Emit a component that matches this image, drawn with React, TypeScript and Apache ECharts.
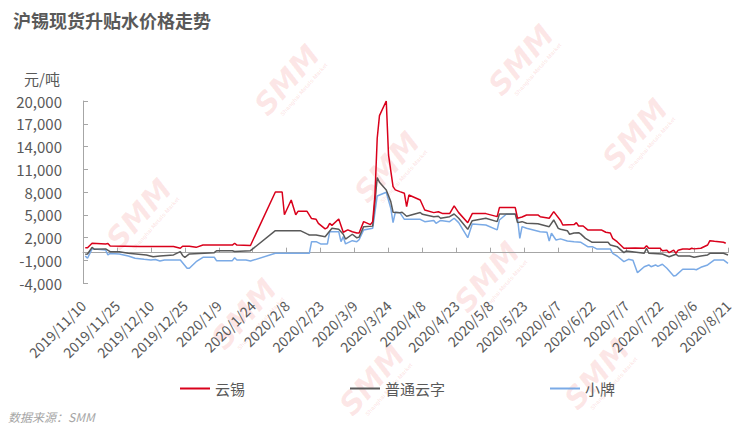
import React, { useEffect, useRef } from "react";
import * as echarts from "echarts";

const chartTitle = "沪锡现货升贴水价格走势";
const unitLabel = "元/吨";
const sourceLabel = "数据来源：SMM";
const seriesNames = ["云锡", "普通云字", "小牌"];
const seriesColors = ["#d9001b", "#595959", "#7aaae6"];

const xTickLabels = [
  "2019/11/10", "2019/11/25", "2019/12/10", "2019/12/25", "2020/1/9",
  "2020/1/24", "2020/2/8", "2020/2/23", "2020/3/9", "2020/3/24",
  "2020/4/8", "2020/4/23", "2020/5/8", "2020/5/23", "2020/6/7",
  "2020/6/22", "2020/7/7", "2020/7/22", "2020/8/6", "2020/8/21",
];

const yunxi: [string, number][] = [
  ["2019-11-11", 650], ["2019-11-12", 650], ["2019-11-14", 1240], ["2019-11-20", 1150],
  ["2019-11-21", 1200], ["2019-11-22", 880], ["2019-12-05", 820], ["2019-12-12", 800],
  ["2019-12-20", 820], ["2019-12-23", 580], ["2019-12-24", 850], ["2019-12-27", 850],
  ["2019-12-30", 700], ["2020-01-02", 1000], ["2020-01-15", 1000], ["2020-01-16", 1240],
  ["2020-01-17", 1000], ["2020-01-23", 950], ["2020-02-03", 8000], ["2020-02-06", 8000],
  ["2020-02-07", 5000], ["2020-02-10", 6950], ["2020-02-12", 5000], ["2020-02-13", 5450],
  ["2020-02-17", 5450], ["2020-02-19", 4500], ["2020-02-21", 4400], ["2020-02-22", 3870],
  ["2020-02-25", 3130], ["2020-02-26", 3300], ["2020-02-27", 3870], ["2020-02-28", 3600],
  ["2020-03-02", 4440], ["2020-03-04", 2690], ["2020-03-06", 3000], ["2020-03-08", 2750],
  ["2020-03-10", 2600], ["2020-03-11", 2600], ["2020-03-13", 4090], ["2020-03-16", 3700],
  ["2020-03-17", 4090], ["2020-03-18", 7600], ["2020-03-19", 15090], ["2020-03-20", 18070],
  ["2020-03-23", 20000], ["2020-03-24", 12890], ["2020-03-26", 8710], ["2020-03-27", 8280],
  ["2020-03-29", 8050], ["2020-03-31", 7830], ["2020-04-01", 6070], ["2020-04-02", 7600],
  ["2020-04-07", 6950], ["2020-04-09", 5630], ["2020-04-13", 5280], ["2020-04-15", 5400],
  ["2020-04-17", 5150], ["2020-04-20", 5150], ["2020-04-22", 6160], ["2020-04-24", 5280],
  ["2020-04-28", 3960], ["2020-04-30", 5150], ["2020-05-06", 5150], ["2020-05-11", 4750],
  ["2020-05-12", 5940], ["2020-05-19", 5940], ["2020-05-20", 4540], ["2020-05-22", 4700],
  ["2020-05-24", 4970], ["2020-05-29", 4970], ["2020-05-30", 4750], ["2020-06-03", 4540],
  ["2020-06-05", 5410], ["2020-06-08", 4250], ["2020-06-09", 3650], ["2020-06-14", 3700],
  ["2020-06-15", 3960], ["2020-06-16", 3520], ["2020-06-18", 3520], ["2020-06-20", 3000],
  ["2020-06-26", 3000], ["2020-06-28", 2690], ["2020-06-30", 2600], ["2020-07-01", 1890],
  ["2020-07-03", 1450], ["2020-07-06", 580], ["2020-07-11", 600], ["2020-07-15", 580],
  ["2020-07-16", 920], ["2020-07-17", 580], ["2020-07-22", 580], ["2020-07-23", 260],
  ["2020-07-25", 330], ["2020-07-26", 0], ["2020-07-28", 330], ["2020-07-29", -80],
  ["2020-07-30", 330], ["2020-08-01", 490], ["2020-08-03", 490], ["2020-08-04", 450],
  ["2020-08-05", 580], ["2020-08-06", 500], ["2020-08-09", 580], ["2020-08-12", 1010],
  ["2020-08-13", 1580], ["2020-08-15", 1500], ["2020-08-19", 1370], ["2020-08-20", 1240],
];

const putongYunzi: [string, number][] = [
  ["2019-11-11", -200], ["2019-11-12", -170], ["2019-11-14", 700], ["2019-11-15", 450],
  ["2019-11-20", 500], ["2019-11-22", 130], ["2019-11-26", 130], ["2019-11-30", -80],
  ["2019-12-08", -300], ["2019-12-11", -530], ["2019-12-14", -450], ["2019-12-20", -300],
  ["2019-12-23", 130], ["2019-12-24", -370], ["2019-12-25", -610], ["2019-12-27", -170],
  ["2020-01-07", 0], ["2020-01-08", 260], ["2020-01-15", 260], ["2020-01-16", 150],
  ["2020-01-23", 260], ["2020-02-03", 2900], ["2020-02-14", 2900], ["2020-02-17", 2470],
  ["2020-02-18", 2330], ["2020-02-21", 2330], ["2020-02-25", 2110], ["2020-02-28", 3210],
  ["2020-03-02", 3100], ["2020-03-04", 2430], ["2020-03-05", 1800], ["2020-03-08", 2430],
  ["2020-03-10", 1960], ["2020-03-11", 2050], ["2020-03-13", 3430], ["2020-03-17", 3500],
  ["2020-03-19", 9890], ["2020-03-20", 9280], ["2020-03-23", 8270], ["2020-03-25", 6730],
  ["2020-03-26", 5330], ["2020-03-29", 5280], ["2020-03-30", 5330], ["2020-04-01", 4800],
  ["2020-04-07", 5300], ["2020-04-08", 5060], ["2020-04-13", 4750], ["2020-04-15", 4800],
  ["2020-04-16", 4540], ["2020-04-20", 4750], ["2020-04-22", 5100], ["2020-04-24", 4540],
  ["2020-04-28", 3080], ["2020-04-30", 4220], ["2020-05-06", 4540], ["2020-05-11", 4090],
  ["2020-05-12", 5100], ["2020-05-19", 5100], ["2020-05-20", 3960], ["2020-05-22", 4090],
  ["2020-05-24", 3870], ["2020-05-29", 3800], ["2020-06-03", 3430], ["2020-06-05", 4310],
  ["2020-06-07", 3210], ["2020-06-08", 3080], ["2020-06-11", 2900], ["2020-06-12", 2430],
  ["2020-06-14", 2600], ["2020-06-16", 2640], ["2020-06-17", 2450], ["2020-06-19", 1890],
  ["2020-06-22", 1370], ["2020-06-29", 1370], ["2020-06-30", 1010], ["2020-07-03", 790],
  ["2020-07-06", 0], ["2020-07-07", 220], ["2020-07-15", -80], ["2020-07-16", 580],
  ["2020-07-17", -80], ["2020-07-23", -170], ["2020-07-26", -530], ["2020-07-29", -200],
  ["2020-07-30", -440], ["2020-08-04", -440], ["2020-08-06", -610], ["2020-08-09", -450],
  ["2020-08-12", -300], ["2020-08-13", -80], ["2020-08-19", -80], ["2020-08-21", -300],
];

const xiaopai: [string, number][] = [
  ["2019-11-11", -440], ["2019-11-12", -740], ["2019-11-14", 500], ["2019-11-20", 360],
  ["2019-11-21", -300], ["2019-11-22", -100], ["2019-11-26", -170], ["2019-11-30", -440],
  ["2019-12-03", -740], ["2019-12-07", -880], ["2019-12-10", -960], ["2019-12-12", -900],
  ["2019-12-14", -1100], ["2019-12-16", -960], ["2019-12-23", -960], ["2019-12-26", -2060],
  ["2019-12-27", -2060], ["2019-12-30", -1190], ["2020-01-02", -610], ["2020-01-07", -610],
  ["2020-01-08", -1050], ["2020-01-15", -1050], ["2020-01-16", -660], ["2020-01-17", -960],
  ["2020-01-21", -960], ["2020-01-23", -1100], ["2020-02-03", -80], ["2020-02-18", -80],
  ["2020-02-19", 1450], ["2020-02-21", 1450], ["2020-02-23", 1150], ["2020-02-26", 1150],
  ["2020-02-27", 2770], ["2020-03-02", 2770], ["2020-03-03", 1450], ["2020-03-04", 2110],
  ["2020-03-05", 1150], ["2020-03-08", 1580], ["2020-03-10", 1450], ["2020-03-11", 1700],
  ["2020-03-13", 3000], ["2020-03-17", 3210], ["2020-03-19", 7480], ["2020-03-23", 7970],
  ["2020-03-25", 5860], ["2020-03-26", 3960], ["2020-03-27", 5330], ["2020-03-29", 5280],
  ["2020-03-31", 4400], ["2020-04-07", 4400], ["2020-04-09", 4090], ["2020-04-13", 4250],
  ["2020-04-14", 3870], ["2020-04-16", 4250], ["2020-04-20", 4090], ["2020-04-22", 4540],
  ["2020-04-24", 3960], ["2020-04-28", 1980], ["2020-04-30", 3780], ["2020-05-06", 3650],
  ["2020-05-11", 3000], ["2020-05-12", 4310], ["2020-05-15", 5060], ["2020-05-19", 5060],
  ["2020-05-20", 4540], ["2020-05-21", 1890], ["2020-05-22", 3430], ["2020-05-24", 3210],
  ["2020-05-30", 2770], ["2020-06-02", 2700], ["2020-06-03", 1540], ["2020-06-04", 2560],
  ["2020-06-06", 1670], ["2020-06-08", 1820], ["2020-06-11", 1540], ["2020-06-14", 1450],
  ["2020-06-17", 1370], ["2020-06-20", 790], ["2020-06-22", 790], ["2020-06-24", 490],
  ["2020-06-30", 490], ["2020-07-01", -80], ["2020-07-03", -440], ["2020-07-06", -1190],
  ["2020-07-08", -880], ["2020-07-10", -1000], ["2020-07-12", -2640], ["2020-07-15", -1850],
  ["2020-07-17", -1620], ["2020-07-18", -1850], ["2020-07-20", -1620], ["2020-07-21", -1800],
  ["2020-07-23", -1530], ["2020-07-25", -2060], ["2020-07-28", -3070], ["2020-07-29", -3000],
  ["2020-08-01", -2190], ["2020-08-06", -2190], ["2020-08-07", -2250], ["2020-08-09", -1930],
  ["2020-08-12", -1620], ["2020-08-15", -960], ["2020-08-19", -960], ["2020-08-21", -1400],
];

const watermarkSpots: [number, number][] = [
  [287, 80], [521, 60], [635, 134], [387, 167],
  [139, 214], [487, 277], [244, 314], [597, 374], [372, 380],
];

const START = Date.UTC(2019, 10, 10);
const DAY = 86400000;
const dayOf = (s: string) => {
  const [y, m, d] = s.split("-").map(Number);
  return (Date.UTC(y, m - 1, d) - START) / DAY;
};

const FONT = "'Noto Sans CJK SC', 'Noto Sans', sans-serif";

export default function App() {
  const ref = useRef<HTMLDivElement>(null);

  useEffect(() => {
    if (!ref.current) return;
    const chart = echarts.init(ref.current, null, { renderer: "svg" });
    const axisGray = "#a6a6a6";
    const textGray = "#595959";
    const lastDay = (xTickLabels.length - 1) * 15;

    const seriesData = [yunxi, putongYunzi, xiaopai];

    const watermarks = watermarkSpots.map(([x, y]) => ({
      type: "group",
      x,
      y,
      rotation: 0.85,
      silent: true,
      z: 0,
      children: [
        {
          type: "text",
          x: 0,
          y: 0,
          style: {
            text: "SMM",
            font: "italic bold 30px 'DejaVu Sans', Arial, sans-serif",
            fill: "rgba(235, 60, 60, 0.12)",
            align: "center",
            verticalAlign: "middle",
            textAlign: "center",
            textVerticalAlign: "middle",
          },
        },
        {
          type: "text",
          x: 4,
          y: 19,
          style: {
            text: "Shanghai Metals Market",
            font: "bold 6px Arial, sans-serif",
            fill: "rgba(235, 60, 60, 0.12)",
            align: "center",
            verticalAlign: "middle",
            textAlign: "center",
            textVerticalAlign: "middle",
          },
        },
      ],
    }));

    const option: any = {
      animation: false,
      backgroundColor: "#ffffff",
      textStyle: { fontFamily: FONT },
      title: {
        text: chartTitle,
        left: 8,
        top: 6,
        textStyle: { fontSize: 18, fontWeight: "bold", color: textGray, fontFamily: FONT },
      },
      legend: {
        left: 175,
        top: 376,
        icon: "rect",
        itemWidth: 30,
        itemHeight: 2,
        itemGap: 105,
        data: seriesNames,
        textStyle: { fontSize: 15, color: textGray, fontFamily: FONT },
      },
      grid: { left: 83, right: 21, top: 101, bottom: 152, containLabel: false },
      xAxis: [
        {
          type: "value",
          min: 0,
          max: lastDay,
          interval: 15,
          position: "bottom",
          axisLine: { show: false, onZero: false },
          axisTick: { show: false },
          splitLine: { show: false },
          axisLabel: {
            rotate: 45,
            fontSize: 14,
            color: textGray,
            margin: 20,
            fontFamily: FONT,
            showMinLabel: true,
            showMaxLabel: true,
            formatter: (v: number) => xTickLabels[Math.round(v / 15)] ?? "",
          },
        },
        {
          type: "value",
          min: 0,
          max: lastDay,
          interval: 15,
          position: "top",
          axisLine: { show: true, onZero: true, lineStyle: { color: axisGray, width: 1 } },
          axisTick: { show: true, inside: false, length: 5, lineStyle: { color: axisGray } },
          axisLabel: { show: false },
          splitLine: { show: false },
        },
      ],
      yAxis: {
        type: "value",
        min: -4000,
        max: 20000,
        interval: 3000,
        name: unitLabel,
        nameLocation: "end",
        nameGap: 15,
        nameTextStyle: { color: textGray, fontSize: 15, align: "right", padding: [0, 23, 0, 0], fontFamily: FONT },
        axisLine: { show: true, onZero: false, lineStyle: { color: axisGray, width: 1 } },
        axisTick: { show: true, inside: true, length: 5, lineStyle: { color: axisGray } },
        splitLine: { show: false },
        axisLabel: {
          color: textGray,
          fontSize: 15,
          margin: 21,
          fontFamily: FONT,
          formatter: (v: number) => v.toLocaleString("en-US"),
        },
      },
      graphic: [
        ...watermarks,
        {
          type: "text",
          left: 8,
          top: 410,
          z: 10,
          style: {
            text: sourceLabel,
            font: `italic 12px ${FONT}`,
            fill: "#a6a6a6",
          },
        },
      ],
      series: seriesNames.map((name, i) => ({
        name,
        type: "line",
        xAxisIndex: 0,
        yAxisIndex: 0,
        showSymbol: false,
        symbol: "none",
        smooth: false,
        z: 5 - i,
        color: seriesColors[i],
        itemStyle: { color: seriesColors[i] },
        lineStyle: { color: seriesColors[i], width: 1.5 },
        data: seriesData[i].map(([d, v]) => [dayOf(d), v]),
      })),
    };

    chart.setOption(option);
    return () => chart.dispose();
  }, []);

  return (
    <div
      ref={ref}
      style={{ position: "absolute", left: 0, top: 0, width: 749, height: 435, background: "#fff" }}
    />
  );
}
